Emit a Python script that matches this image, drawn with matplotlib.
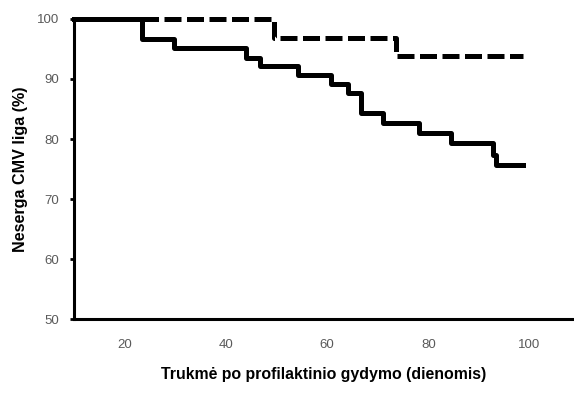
import matplotlib.pyplot as plt

plt.rcParams['font.family'] = ['Liberation Sans', 'DejaVu Sans']

# Kaplan-Meier step data (days, % without CMV)
solid_days = [10, 23.4, 29.7, 44.0, 46.7, 54.3, 60.7, 64.2, 66.8, 71.1, 78.2, 84.5, 92.8, 93.4, 98.7]
solid_pct = [100, 96.7, 95.1, 93.5, 92.2, 90.7, 89.2, 87.7, 84.3, 82.7, 81.0, 79.3, 77.3, 75.6, 75.6]

dashed_days = [10, 49.6, 73.7, 98.7]
dashed_pct = [100, 96.8, 93.8, 93.8]

x_ticks = [20, 40, 60, 80, 100]
y_ticks = [50, 60, 70, 80, 90, 100]

fig = plt.figure(figsize=(5.74, 3.94), dpi=100)
ax = fig.add_axes([0.129, 0.19, 0.871, 0.762])

ax.step(solid_days, solid_pct, where='post', color='black', lw=3.6, clip_on=False)
ax.step(dashed_days, dashed_pct, where='post', color='black', lw=3.6,
        dashes=(3.4, 1.1), dash_capstyle='butt', clip_on=False)

ax.set_xlim(10, 108.8)
ax.set_ylim(50, 100)
ax.set_xticks(x_ticks)
ax.set_yticks(y_ticks)

for s in ['top', 'right']:
    ax.spines[s].set_visible(False)
for s in ['left', 'bottom']:
    ax.spines[s].set_linewidth(2.2)

ax.tick_params(axis='x', length=0, pad=14, labelsize=9.5, labelcolor='#5a5a5a')
ax.tick_params(axis='y', length=3, width=2, pad=8, labelsize=9.5, labelcolor='#5a5a5a')

ax.set_ylabel('Neserga CMV liga (%)', fontsize=11.6, fontweight='bold', labelpad=6)
ax.set_xlabel('Trukmė po profilaktinio gydymo (dienomis)', fontsize=11.4,
              fontweight='bold', labelpad=12)

fig.savefig('out.png', dpi=100)
